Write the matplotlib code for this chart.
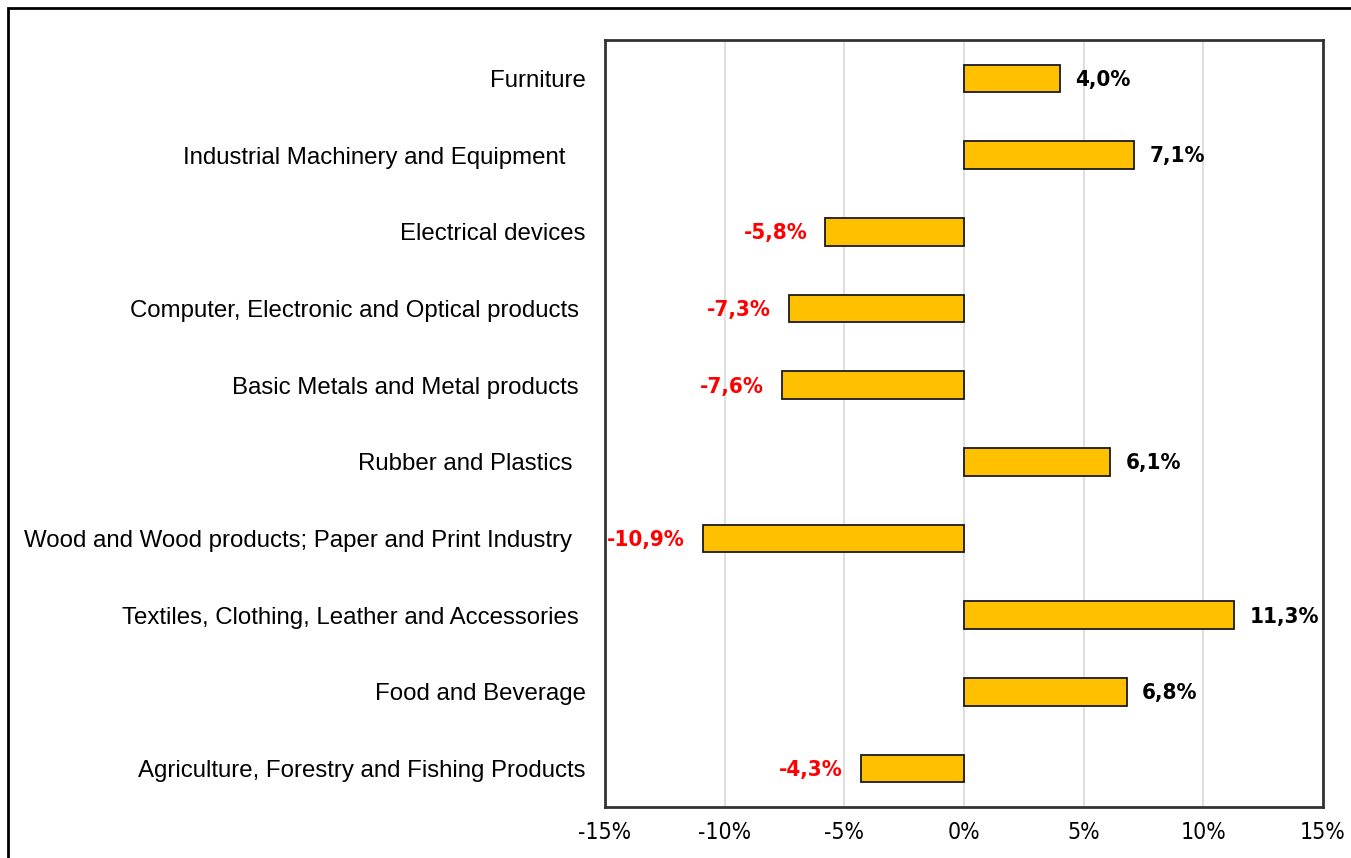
import matplotlib.pyplot as plt
from matplotlib.patches import Rectangle

categories = [
    "Agriculture, Forestry and Fishing Products",
    "Food and Beverage",
    "Textiles, Clothing, Leather and Accessories ",
    "Wood and Wood products; Paper and Print Industry  ",
    "Rubber and Plastics  ",
    "Basic Metals and Metal products ",
    "Computer, Electronic and Optical products ",
    "Electrical devices",
    "Industrial Machinery and Equipment   ",
    "Furniture",
]
values = [-4.3, 6.8, 11.3, -10.9, 6.1, -7.6, -7.3, -5.8, 7.1, 4.0]
xticks = [-15, -10, -5, 0, 5, 10, 15]

plt.rcParams['font.family'] = ['DejaVu Sans']

fig = plt.figure(figsize=(13.51, 8.58), dpi=100)
ax = fig.add_axes([605 / 1351, 1 - 807 / 858, 718 / 1351, 767 / 858])

# frame around the whole picture (open to the right and bottom)
fig.patches.append(Rectangle((8 / 1351, -0.1), 1.2, 1 - 8 / 858 + 0.1,
                             transform=fig.transFigure, fill=False,
                             edgecolor='black', linewidth=2))

y = list(range(len(categories)))
ax.barh(y, values, height=0.36, color='#FFC000', edgecolor='#1a1a1a', linewidth=1.3, zorder=3)

for yi, v in zip(y, values):
    txt = f"{v:.1f}%".replace('.', ',')
    if v >= 0:
        ax.annotate(txt, (v, yi), xytext=(11, -1), textcoords='offset points',
                    ha='left', va='center', fontsize=16, fontweight='bold',
                    fontstretch='condensed', color='black')
    else:
        ax.annotate(txt, (v, yi), xytext=(-13, -1), textcoords='offset points',
                    ha='right', va='center', fontsize=16, fontweight='bold',
                    fontstretch='condensed', color='red')

ax.set_xlim(-15, 15)
ax.set_ylim(-0.5, len(categories) - 0.5)
ax.set_xticks(xticks)
ax.set_xticklabels([f"{t}%" for t in xticks], fontsize=16.5, fontstretch='condensed')
ax.set_yticks(y)
ax.set_yticklabels(categories, fontsize=17.3, family=['Liberation Sans', 'DejaVu Sans'])
ax.tick_params(axis='y', length=0, pad=14)
ax.tick_params(axis='x', length=0, pad=10)
ax.grid(axis='x', color='#d9d9d9', linewidth=1.2, zorder=0)
for s in ax.spines.values():
    s.set_linewidth(2)
    s.set_color('#333333')

fig.savefig('out.png', dpi=100)
